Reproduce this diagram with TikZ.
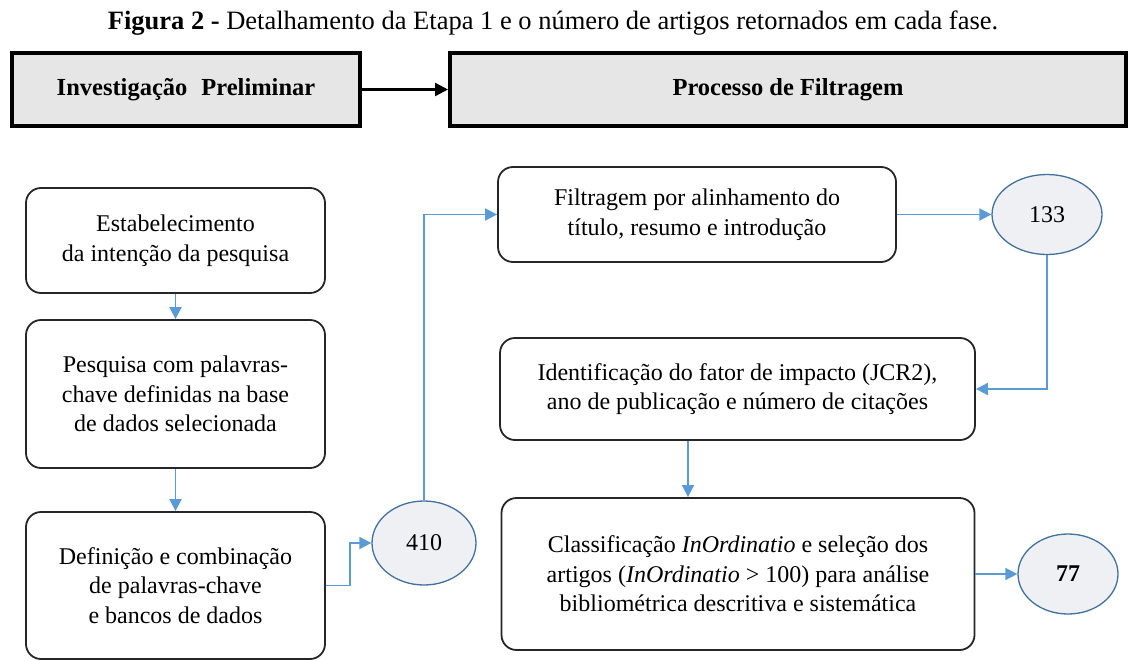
\documentclass[tikz,border=0pt]{standalone}
\usepackage{fontspec}
\setmainfont{Liberation Serif}
\usepackage{xcolor}
\definecolor{hdrbg}{HTML}{E6E6E6}
\definecolor{flowblue}{HTML}{5B9BD5}
\definecolor{numbg}{HTML}{EEF0F4}
\definecolor{numline}{HTML}{41719C}
\usetikzlibrary{shapes.geometric, arrows.meta, positioning, calc}

\begin{document}
\begin{tikzpicture}[
        x=1pt, y=-1pt,
        font=\fontsize{24}{29.5}\selectfont,
        hdr/.style={
            rectangle,
            draw=black,
            line width=4pt,
            fill=hdrbg,
            align=center,
            minimum height=72pt,
            font=\fontsize{24.5}{29}\selectfont\bfseries
        },
        box/.style={
            rectangle,
            rounded corners=15pt,
            draw=black!85,
            line width=1.8pt,
            fill=white,
            align=center,
            minimum width=299pt
        },
        num/.style={
            ellipse,
            draw=numline,
            line width=1.3pt,
            fill=numbg,
            inner sep=0pt
        },
        arrow/.style={
            -{Triangle[length=12pt, width=12pt]},
            draw=flowblue,
            line width=1.8pt
        },
        hdrarrow/.style={
            -{Triangle[length=13pt, width=13pt]},
            draw=black,
            line width=2.4pt
        }
    ]

    \useasboundingbox (0,0) rectangle (1132,661);

    % Caption
    \node[font=\fontsize{26.5}{30}\selectfont] (title) at (553,23)
        {\textbf{Figura 2 -} Detalhamento da Etapa 1 e o número de artigos retornados em cada fase.};

    % Header boxes
    \node[hdr, minimum width=348pt] (prelim) at (186,89.5) {Investigação\hspace{14pt}Preliminar};
    \node[hdr, minimum width=676pt] (filtro) at (788,89.5) {Processo de Filtragem};
    \draw[hdrarrow] (prelim) -- (filtro);

    % Left column
    \node[box, minimum height=105pt] (intencao) at (175.5,240.5) {Estabelecimento\\da intenção da pesquisa};
    \node[box, minimum height=148pt] (pesquisa) at (175.5,394) {Pesquisa com palavras-\\chave definidas na base\\de dados selecionada};
    \node[box, minimum height=147pt] (definicao) at (175.5,585.5) {Definição e combinação\\de palavras-chave\\e bancos de dados};
    \node[num, minimum width=104pt, minimum height=84pt] (n410) at (424,543) {410};

    \draw[arrow] (intencao) -- (pesquisa);
    \draw[arrow] (pesquisa) -- (definicao);
    \draw[arrow] (definicao.east) -- ++(24,0) |- (n410.west);

    % Right column
    \node[box, minimum width=398pt, minimum height=95pt] (alinhamento) at (697,214.5) {Filtragem por alinhamento do\\título, resumo e introdução};
    \node[num, minimum width=110pt, minimum height=80pt] (n133) at (1047,214.5) {133};
    \node[box, minimum width=475pt, minimum height=102pt] (impacto) at (737.5,389) {Identificação do fator de impacto (JCR2),\\ano de publicação e número de citações};
    \node[box, minimum width=473pt, minimum height=152pt] (ordinatio) at (738,574) {Classificação \textit{InOrdinatio} e seleção dos\\artigos (\textit{InOrdinatio} > 100) para análise\\bibliométrica descritiva e sistemática};
    \node[num, minimum width=100pt, minimum height=80pt] (n77) at (1068,574) {\textbf{77}};
    \coordinate (drop) at (688,0);

    \draw[arrow] (n410.north) |- (alinhamento.west);
    \draw[arrow] (alinhamento.east) -- (n133.west);
    \draw[arrow] (n133.south) |- (impacto.east);
    \draw[arrow] (drop |- impacto.south) -- (drop |- ordinatio.north);
    \draw[arrow] (ordinatio.east) -- (n77.west);

\end{tikzpicture}
\end{document}
